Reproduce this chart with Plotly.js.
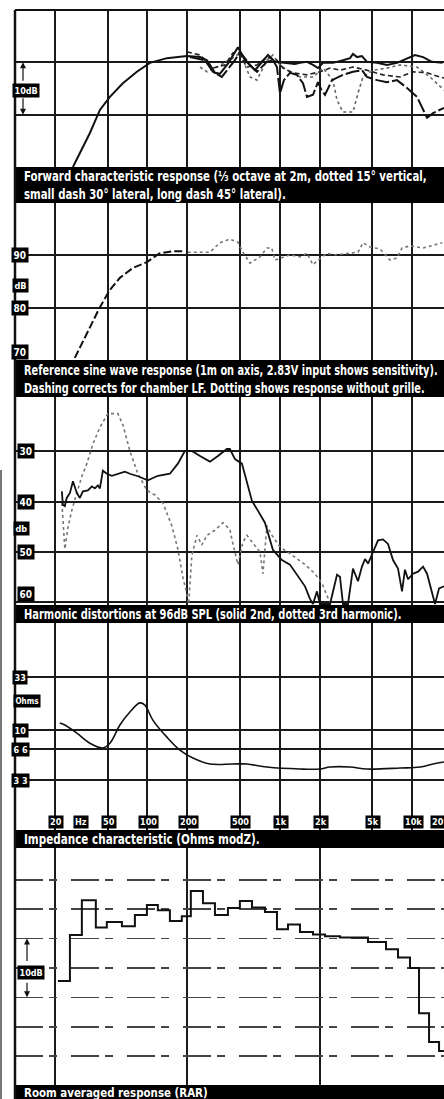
<!DOCTYPE html>
<html><head><meta charset="utf-8">
<script src="https://cdn.plot.ly/plotly-3.0.1.min.js"></script>
<style>html,body{margin:0;padding:0;background:#fff;overflow:hidden}#chart{width:444px;height:1099px}</style>
</head><body><div id="chart"></div>
<script>
// ---------- DATA ----------
// Panel 1: forward characteristic response (dB)
const p1SolidF = [27.4,30.9,36.8,43.8,52.1,65.3,83.3,104.5,140.5,199,250,282,324,353,410,483,546,650,740,815,920,1094,1303,1422,1607,1783,1945,2123,2524,3006,3396,3574,3840,4180,4560,5433,6457,7691,9160,10520,12100,14100,17000];
const p1SolidDb = [60.0,62.7,66.5,70.9,73.4,76.0,78.2,79.9,80.8,81.2,81.0,80.4,78.0,77.8,79.9,82.9,80.4,78.5,80.1,81.4,80.1,79.9,79.7,79.9,80.1,79.5,78.9,79.9,79.9,80.4,80.8,81.6,81.0,81.2,80.1,79.9,79.5,79.9,80.8,81.4,81.0,80.1,79.9];
const p1LongF = [210,272,313,365,459,500,596,673,800,889,953,1004,1075,1194,1350,1499,1607,1783,1945,2070,2198,2483,3006,3574,4180,4560,5433,6457,7691,9160,10890,12100,12970,14390,16260,17420];
const p1LongDb = [81.0,80.4,78.2,77.2,80.4,82.0,79.5,78.2,80.1,80.4,79.1,74.1,76.6,78.0,77.6,76.0,73.4,73.8,76.2,74.7,73.8,76.6,77.6,78.2,78.5,77.2,76.6,76.2,76.6,75.1,73.4,70.9,69.4,70.3,70.9,71.3];
const p1ShortF = [199,250,313,385,443,500,565,673,800,953,1057,1259,1607,2014,2399,2851,3574,4560,6026,8110,10160,12970,16260,17420];
const p1ShortDb = [82.0,81.4,78.9,79.5,81.8,81.4,79.1,79.5,81.0,80.4,78.9,78.0,77.6,78.2,78.9,78.5,79.1,78.5,77.6,77.2,78.2,78.0,77.2,77.0];
const p1DotF = [250,282,335,443,500,565,596,673,800,889,1004,1194,1422,1783,2123,2524,2708,3006,3574,3901,4255,5070,6457,8110,10890,13650,16260,17420];
const p1DotDb = [79.1,78.2,79.1,80.8,81.8,78.5,77.2,76.6,80.4,81.4,79.5,78.2,77.2,77.2,78.9,76.6,72.8,70.5,70.5,74.1,77.2,78.5,78.9,79.5,79.1,77.2,75.3,74.7];

// Panel 2: reference sine wave response (dB)
const p2DashF = [28.3,32.0,36.8,43.8,52.1,62.0,77.7,99.2,124,156,186];
const p2DashDb = [70.4,73.2,76.3,80.1,83.4,85.7,87.6,88.7,90.4,90.8,90.8];
const p2DotF = [202,250,297,353,420,483,527,596,709,800,870,920,1194,1422,1607,1783,1945,2275,2524,3112,3901,4255,4809,5727,6808,7691,8390,9640,12100,16900];
const p2DotDb = [90.6,90.6,90.6,92.4,93.1,92.5,90.6,88.5,89.7,91.4,91.4,89.1,90.1,89.7,90.4,88.2,89.1,90.4,90.1,90.3,90.6,92.4,91.6,91.2,89.1,89.5,91.4,91.8,91.4,92.4];

// Panel 3: harmonic distortion (dB below)
const p3SolidF = [22.6,23.0,23.8,24.6,26.0,27.4,29.3,30.9,32.6,35.5,38.1,40.1,42.3,43.8,46.1,49.4,53.9,67.6,73.8,84.8,100.9,120,148,170,192,217,250,297,341,399,420,459,518,565,617,684,773,889,1039,1194,1373,1552,1692,1783,1911,2014,2399,2708,2851,3006,3280,3574,3901,4180,4406,4650,5070,5527,6026,6577,7177,7828,8390,8830,9316,10160,11090,12100,12970,14150,14900,15980,17420];
const p3SolidDb = [38.0,40.7,40.9,39.3,38.3,36.0,38.3,39.3,38.0,37.8,37.0,37.4,36.8,37.4,33.9,34.5,34.9,34.1,34.5,35.0,35.8,34.9,34.5,32.5,30.0,30.0,31.0,32.1,31.0,29.6,29.6,31.6,32.5,36.0,39.9,41.8,44.2,49.6,51.6,52.5,54.9,56.8,59.3,60.3,57.8,60.3,60.3,54.5,54.9,60.3,60.3,53.3,55.8,52.9,51.4,52.3,50.0,47.7,47.5,48.4,51.6,53.3,57.8,53.5,55.4,54.3,53.9,52.9,54.3,58.3,60.3,57.2,56.8];
const p3DotF = [22.6,23.8,25.2,26.9,29.3,32.0,34.9,38.8,43.8,50.3,59.9,65.3,73.8,84.8,99.2,114,131,153,170,186,199,205,217,237,258,282,324,372,420,435,483,527,565,650,709,747,800,874,1004,1237,1552,1846,2085,2314,2483];
const p3DotDb = [40.3,49.4,45.0,41.7,38.3,35.0,32.5,28.6,25.3,22.6,22.6,24.8,30.0,34.5,37.8,38.7,40.3,44.8,49.4,55.2,58.3,60.3,50.6,46.7,48.6,46.7,45.7,44.2,45.5,47.5,52.5,48.1,46.7,48.6,50.0,54.3,44.8,46.7,49.0,50.6,52.5,54.3,56.2,59.1,60.5];

// Panel 4: impedance (Ohms)
const p4F = [21.8,23.8,29.3,36.8,46.1,52.1,62.0,73.8,87.8,95.8,110,140.5,176,221,297,443,565,800,1422,2014,2399,3396,4560,8110,11480,14390,17420];
const p4Ohm = [11.8,11.3,9.4,7.5,6.75,7.5,11.3,15.1,18.5,17.6,12.6,8.6,6.45,5.4,4.72,4.72,4.72,4.41,4.22,4.22,4.41,4.41,4.22,4.31,4.41,4.72,4.93];

// Panel 5: room averaged response, third-octave steps (band start Hz, dB)
const p5F = [21.1,26.0,32.0,40.8,49.4,64.2,80.5,99.2,120,148,182,213,263,324,406,500,617,773,953,1154,1422,1783,2198,2851,4643,6353,7828,9640,11280,13430,15980,17420];
const p5Db = [12.8,20.6,26.5,21.9,22.8,22.1,24.0,25.7,24.8,23.0,23.8,28.1,26.0,24.0,25.2,26.4,25.3,24.5,21.6,22.4,21.1,20.7,20.4,20.2,19.4,18.2,16.8,15.0,7.3,2.4,0.9,0.9];

// Tick labels
const freqTickVals = [20,50,100,200,500,1000,2000,5000,10000,20000];
const freqTickText = ['20','50','100','200','500','1k','2k','5k','10k','20'];
const hzLabelPos = 31.6;
const p2TickVals = [70,80,90];
const p2TickText = ['70','80','90'];
const p3TickVals = [30,40,50,60];
const p3TickText = ['30','40','50','60'];
const p4TickVals = [3.3,6.6,10,33];
const p4TickText = ['3 3','6 6','10','33'];
const p5GridVals = [0,5,10,15,20,25,30];
const p5FreqGrid = [20,200,2000,20000];

const captions = [
  'Forward characteristic response (⅓ octave at 2m, dotted 15° vertical,<br>small dash 30° lateral, long dash 45° lateral).',
  'Reference sine wave response (1m on axis, 2.83V input shows sensitivity).<br>Dashing corrects for chamber LF. Dotting shows response without grille.',
  'Harmonic distortions at 96dB SPL (solid 2nd, dotted 3rd harmonic).',
  'Impedance characteristic (Ohms modZ).',
  'Room averaged response (RAR)'
];

// ---------- LAYOUT HELPERS ----------
const H = 1099;
const py = p => 1 - p / H;
const px = p => (p - 15) / 429;
const FONT = 'DejaVu Sans Condensed, Liberation Sans Narrow, sans-serif';
const GRID = '#1a1a1a';
const XR = [1, 4.241];
const captionWidthPx = [403, 414, 378, 236, 184];

function xax(anchor, tv){
  return {type:'log', range:XR, domain:[0,1], anchor:anchor, tickvals:tv, showticklabels:false, ticks:'',
    showgrid:true, gridcolor:GRID, gridwidth:2, zeroline:false, showline:false, fixedrange:true};
}
function yax(anchor, top, bot, range, tv, extra){
  return Object.assign({domain:[py(bot), py(top)], anchor:anchor, range:range, tickvals:tv, showticklabels:false, ticks:'',
    showgrid:true, gridcolor:GRID, gridwidth:2, zeroline:false, showline:false, fixedrange:true}, extra || {});
}

function tr(x, y, xa, ya, line, shape){
  return {x:x, y:y, xaxis:xa, yaxis:ya, type:'scatter', mode:'lines', line:Object.assign({shape:shape||'linear'}, line), hoverinfo:'skip', showlegend:false};
}

const data = [
  tr(p1DotF, p1DotDb, 'x', 'y', {color:'#666', width:1.6, dash:'dot'}),
  tr(p1ShortF, p1ShortDb, 'x', 'y', {color:'#222', width:1.6, dash:'5px,3px'}),
  tr(p1LongF, p1LongDb, 'x', 'y', {color:'#111', width:2, dash:'14px,3px'}),
  tr(p1SolidF, p1SolidDb, 'x', 'y', {color:'#111', width:2}),
  tr(p2DotF, p2DotDb, 'x2', 'y2', {color:'#777', width:1.6, dash:'dot'}),
  tr(p2DashF, p2DashDb, 'x2', 'y2', {color:'#111', width:2, dash:'8px,3px'}),
  tr(p3DotF, p3DotDb, 'x3', 'y3', {color:'#777', width:1.6, dash:'dot'}),
  tr(p3SolidF, p3SolidDb, 'x3', 'y3', {color:'#111', width:1.8}),
  tr(p4F, p4Ohm, 'x4', 'y4', {color:'#111', width:1.6, shape:'spline'}),
  tr(p5F, p5Db, 'x5', 'y5', {color:'#111', width:2}, 'hv')
];

// captions: bars and text
const bars = [[167,203],[360,397],[605,623],[830,848],[1085,1099]];
const shapes = [];
const annotations = [];
bars.forEach((b, i) => {
  shapes.push({type:'rect', xref:'paper', yref:'paper', x0:0, x1:1.01, y0:py(b[1]), y1:py(b[0]), fillcolor:'#000', line:{width:0}, layer:'above'});
  annotations.push({xref:'paper', yref:'paper', x:px(22), y: i===4 ? py(1092) : py((b[0]+b[1])/2),
    xanchor:'left', yanchor:'middle', align:'left', showarrow:false, text:captions[i],
    font:{family:FONT, size: i===4 ? 13 : 14, color:'#fff', weight:'bold'}});
});
// frame
shapes.push({type:'line', xref:'paper', yref:'paper', x0:0, x1:1.01, y0:py(10), y1:py(10), line:{color:'#111', width:2}, layer:'above'});
shapes.push({type:'line', xref:'paper', yref:'paper', x0:0, x1:0, y0:py(10), y1:0, line:{color:'#111', width:2.5}, layer:'above'});
shapes.push({type:'rect', xref:'paper', yref:'paper', x0:px(0), x1:px(2), y0:0, y1:py(470), fillcolor:'#777', line:{width:0}, layer:'above'});

function box(xref, x, yref, y, text, yanchor, size){
  annotations.push({xref:xref, yref:yref, x:x, y:y, xanchor:'center', yanchor:yanchor||'middle', showarrow:false, text:text,
    bgcolor:'#000', borderpad:1.5, font:{family:FONT, size:size||10, color:'#fff', weight:'bold'}});
}
function arrow(yref, x, y, ay){
  annotations.push({xref:'paper', yref:yref, x:x, y:y, ax:0, ay:ay, text:'', showarrow:true, arrowhead:2, arrowsize:1, arrowwidth:1.2, arrowcolor:'#111'});
}
// Panel 1 10dB marker
arrow('y', px(23), 80, 20);
arrow('y', px(23), 70, -18);
box('paper', px(26), 'paper', py(90), '10dB', 'middle', 9);
// Panel 2 labels
p2TickVals.forEach((v, i) => box('paper', px(20), 'y2', v, p2TickText[i], v === 70 ? 'bottom' : 'middle'));
box('paper', px(20), 'paper', py(285), 'dB', 'middle', 9);
// Panel 3 labels
p3TickVals.forEach((v, i) => box('paper', px(26), 'y3', v, p3TickText[i], v === 60 ? 'bottom' : 'middle'));
box('paper', px(21), 'paper', py(528), 'db', 'middle', 9);
// Panel 4 labels (log axis: positions in log10 units)
p4TickVals.forEach((v, i) => box('paper', px(20), 'y4', Math.log10(v), p4TickText[i], 'middle', 9));
box('paper', px(27), 'paper', py(701), 'Ohms', 'middle', 8);
freqTickVals.forEach((v, i) => {
  annotations.push({xref:'x4', yref:'paper', x:Math.min(Math.log10(v), 4.19), y:py(829), xanchor:'center', xshift:1,
    yanchor:'bottom', showarrow:false, text:freqTickText[i], bgcolor:'#000', borderpad:1,
    font:{family:FONT, size:9, color:'#fff', weight:'bold'}});
});
annotations.push({xref:'x4', yref:'paper', x:Math.log10(hzLabelPos), y:py(829), xanchor:'center', yanchor:'bottom', showarrow:false,
  text:'Hz', bgcolor:'#000', borderpad:1, font:{family:FONT, size:9, color:'#fff', weight:'bold'}});
// Panel 5 10dB marker
arrow('y5', px(27), 20, 24);
arrow('y5', px(27), 10, -16);
box('paper', px(31), 'paper', py(972), '10dB', 'middle', 9);

const layout = {
  width:444, height:1099, margin:{l:15, r:0, t:0, b:0}, paper_bgcolor:'#fff', plot_bgcolor:'#fff', showlegend:false,
  xaxis: xax('y', freqTickVals),
  xaxis2: xax('y2', freqTickVals),
  xaxis3: xax('y3', freqTickVals),
  xaxis4: xax('y4', freqTickVals),
  xaxis5: xax('y5', p5FreqGrid),
  yaxis: yax('x', 10, 167, [60, 90], [70, 80]),
  yaxis2: yax('x2', 203, 360, [70, 100], p2TickVals),
  yaxis3: yax('x3', 397, 605, [60.5, 19.3], p3TickVals),
  yaxis4: yax('x4', 623, 830, [0.033, 2.043], p4TickVals, {type:'log'}),
  yaxis5: yax('x5', 848, 1085, [-4.9, 35.4], p5GridVals, {griddash:'28px,6px,8px,14px', gridcolor:'#444', gridwidth:1.5}),
  shapes: shapes,
  annotations: annotations
};

Plotly.newPlot('chart', data, layout, {staticPlot:true, displayModeBar:false}).then(gd => {
  // condense caption text horizontally to match the narrow typeface of the original
  for (let i = 0; i < captions.length; i++) {
    const t = gd.querySelector('g.annotation[data-index="' + i + '"] text.annotation-text');
    if (!t) continue;
    const bb = t.getBBox();
    const sx = Math.min(1, captionWidthPx[i] / bb.width);
    t.setAttribute('transform', 'translate(' + (bb.x * (1 - sx)) + ',0) scale(' + sx + ',1)');
  }
});
</script>
</body></html>
